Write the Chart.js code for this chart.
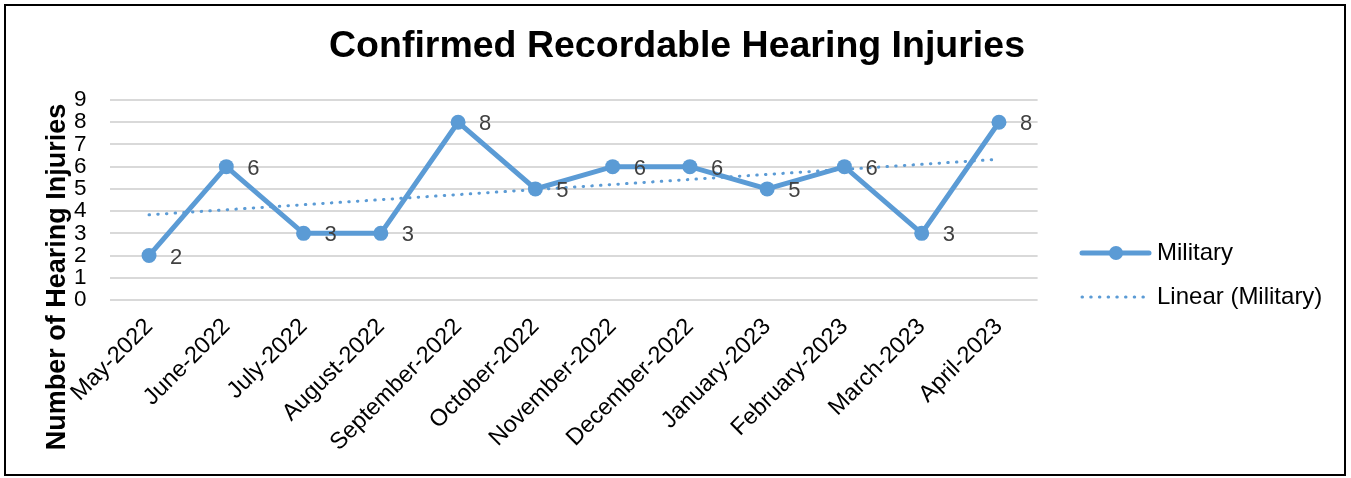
<!DOCTYPE html>
<html>
<head>
<meta charset="utf-8">
<script src="https://cdn.jsdelivr.net/npm/chart.js@4.4.1/dist/chart.umd.min.js"></script>
<style>
html,body{margin:0;padding:0;background:#fff;}
canvas{display:block;}
</style>
</head>
<body>
<canvas id="c" width="1351" height="478"></canvas>
<script>
// ---- data ----
const categories = ['May-2022','June-2022','July-2022','August-2022','September-2022','October-2022','November-2022','December-2022','January-2023','February-2023','March-2023','April-2023'];
const militaryValues = [2, 6, 3, 3, 8, 5, 6, 6, 5, 6, 3, 8];
const yTicks = [0, 1, 2, 3, 4, 5, 6, 7, 8, 9];
const chartTitle = 'Confirmed Recordable Hearing Injuries';
const yAxisTitle = 'Number of Hearing Injuries';
const seriesName = 'Military';
const trendName = 'Linear (Military)';

// least-squares trendline of the series (as the spreadsheet's "Linear" trendline)
function linearTrend(vals) {
  const n = vals.length;
  let sx = 0, sy = 0, sxx = 0, sxy = 0;
  vals.forEach((v, i) => { const x = i + 1; sx += x; sy += v; sxx += x * x; sxy += x * v; });
  const slope = (n * sxy - sx * sy) / (n * sxx - sx * sx);
  const icpt = (sy - slope * sx) / n;
  return vals.map((v, i) => icpt + slope * (i + 1));
}
const trendValues = linearTrend(militaryValues);

const BLUE = '#5B9BD5';
const FONT = "'Liberation Sans', Arial, sans-serif";

const framePlugin = {
  id: 'frame',
  beforeDraw(chart) {
    const ctx = chart.ctx;
    ctx.save();
    ctx.fillStyle = '#fff';
    ctx.fillRect(0, 0, chart.width, chart.height);
    ctx.strokeStyle = '#000';
    ctx.lineWidth = 2;
    ctx.strokeRect(5, 5, 1340, 470);
    // title
    ctx.fillStyle = '#000';
    ctx.font = "bold 37.5px " + FONT;
    ctx.textAlign = 'center';
    ctx.textBaseline = 'middle';
    ctx.fillText(chartTitle, 677, 47);
    // y axis title
    ctx.translate(58, 277);
    ctx.rotate(-Math.PI / 2);
    ctx.font = "bold 27px " + FONT;
    ctx.fillText(yAxisTitle, 0, 0);
    ctx.restore();
  },
  afterDraw(chart) {
    const ctx = chart.ctx;
    ctx.save();
    // legend
    ctx.strokeStyle = BLUE;
    ctx.fillStyle = BLUE;
    ctx.lineWidth = 5;
    ctx.lineCap = 'round';
    ctx.beginPath(); ctx.moveTo(1082, 253); ctx.lineTo(1149, 253); ctx.stroke();
    ctx.beginPath(); ctx.arc(1116, 253, 7, 0, Math.PI * 2); ctx.fill();
    ctx.lineWidth = 3;
    ctx.setLineDash([0.5, 8.2]);
    ctx.beginPath(); ctx.moveTo(1082, 297); ctx.lineTo(1150, 297); ctx.stroke();
    ctx.setLineDash([]);
    ctx.fillStyle = '#000';
    ctx.font = "24px " + FONT;
    ctx.textAlign = 'left';
    ctx.textBaseline = 'middle';
    ctx.fillText(seriesName, 1157, 253);
    ctx.fillText(trendName, 1157, 297);
    ctx.restore();
  },
  afterDatasetsDraw(chart) {
    const meta = chart.getDatasetMeta(1);
    const ctx = chart.ctx;
    ctx.save();
    ctx.fillStyle = '#404040';
    ctx.font = "22px " + FONT;
    ctx.textAlign = 'left';
    ctx.textBaseline = 'middle';
    meta.data.forEach((pt, i) => {
      ctx.fillText(String(militaryValues[i]), pt.x + 21, pt.y + 2);
    });
    ctx.restore();
  }
};

new Chart(document.getElementById('c'), {
  type: 'line',
  data: {
    labels: categories,
    datasets: [
      {
        label: trendName,
        data: trendValues,
        borderColor: BLUE,
        borderWidth: 3,
        borderDash: [0.5, 8.2],
        borderCapStyle: 'round',
        pointRadius: 0,
        fill: false,
        tension: 0,
        order: 0
      },
      {
        label: seriesName,
        data: militaryValues,
        borderColor: BLUE,
        backgroundColor: BLUE,
        borderWidth: 5,
        pointRadius: 7.5,
        pointBackgroundColor: BLUE,
        pointBorderColor: BLUE,
        pointBorderWidth: 0,
        fill: false,
        tension: 0,
        order: 1
      }
    ]
  },
  options: {
    responsive: false,
    animation: false,
    devicePixelRatio: 1,
    layout: { padding: { left: 50.4, right: 313.4, top: 100, bottom: 0 } },
    plugins: {
      legend: { display: false },
      title: { display: false },
      tooltip: { enabled: false }
    },
    scales: {
      x: {
        type: 'category',
        offset: true,
        grid: { display: false, drawTicks: false },
        border: { display: false },
        ticks: {
          color: '#000',
          font: { family: FONT, size: 23.5 },
          minRotation: 45,
          maxRotation: 45,
          autoSkip: false,
          padding: 13
        },
        afterFit(s) { s.height = 178; }
      },
      y: {
        min: 0,
        max: 9,
        afterBuildTicks(s) { s.ticks = yTicks.map(v => ({ value: v })); },
        grid: { color: '#D9D9D9', lineWidth: 2, drawTicks: false },
        border: { display: false },
        ticks: {
          color: '#000',
          font: { family: FONT, size: 22.5 },
          padding: 24,
          stepSize: 1,
          autoSkip: false
        },
        afterFit(s) { s.width = 60; }
      }
    }
  },
  plugins: [framePlugin]
});
</script>
</body>
</html>
